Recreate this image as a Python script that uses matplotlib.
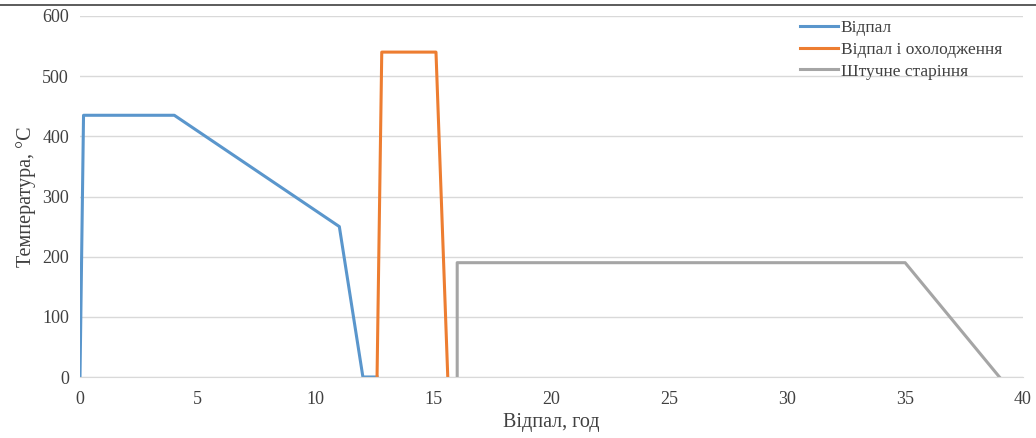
import matplotlib
matplotlib.use("Agg")
import matplotlib.pyplot as plt
from matplotlib.lines import Line2D

plt.rcParams['font.family'] = ['Liberation Serif', 'DejaVu Serif']

# Data
annealing_x = [0, 0.15, 4, 11, 12, 12.6]
annealing_y = [0, 435, 435, 250, 0, 0]
quench_x = [12.6, 12.8, 15.1, 15.6]
quench_y = [0, 540, 540, 0]
aging_x = [16, 16, 35, 39]
aging_y = [0, 190, 190, 0]
series_names = ["Відпал", "Відпал і охолодження", "Штучне старіння"]
xticks = [0, 5, 10, 15, 20, 25, 30, 35, 40]
yticks = [0, 100, 200, 300, 400, 500, 600]

fig = plt.figure(figsize=(10.36, 4.38), dpi=100)
ax = fig.add_axes([80/1036, 1-377/438, (1023-80)/1036, (377-16)/438])

colors = ["#5a96cc", "#ed7d31", "#a5a5a5"]
ax.plot(annealing_x, annealing_y, color=colors[0], lw=2.2, label=series_names[0])
ax.plot(quench_x, quench_y, color=colors[1], lw=2.2, label=series_names[1])
ax.plot(aging_x, aging_y, color=colors[2], lw=2.2, label=series_names[2])

ax.set_xlim(0, 40)
ax.set_ylim(0, 600)
ax.set_xticks(xticks)
ax.set_yticks(yticks)
ax.grid(axis='y', color='#d9d9d9', lw=1)
ax.set_axisbelow(True)
for s in ['top', 'right', 'left']:
    ax.spines[s].set_visible(False)
ax.spines['bottom'].set_color('#d9d9d9')
ax.tick_params(length=0, labelsize=13, colors='#404040')
ax.tick_params(axis='x', pad=10)
ax.tick_params(axis='y', pad=8)
ax.set_xlabel("Відпал, год", fontsize=14.5, color='#404040', labelpad=4)
ax.set_ylabel("Температура, °С", fontsize=14.5, color='#404040', labelpad=4)

leg = fig.legend(loc='upper left', bbox_to_anchor=(800/1036, 1-20/438), frameon=False,
                 fontsize=12.5, handlelength=2.2, handletextpad=0.15,
                 labelspacing=0.32, labelcolor='#404040',
                 borderpad=0, borderaxespad=0)

fig.add_artist(Line2D([0, 1], [1-5/438, 1-5/438], transform=fig.transFigure,
                      color='#404040', lw=1.2))

fig.savefig("out.png", dpi=100)
